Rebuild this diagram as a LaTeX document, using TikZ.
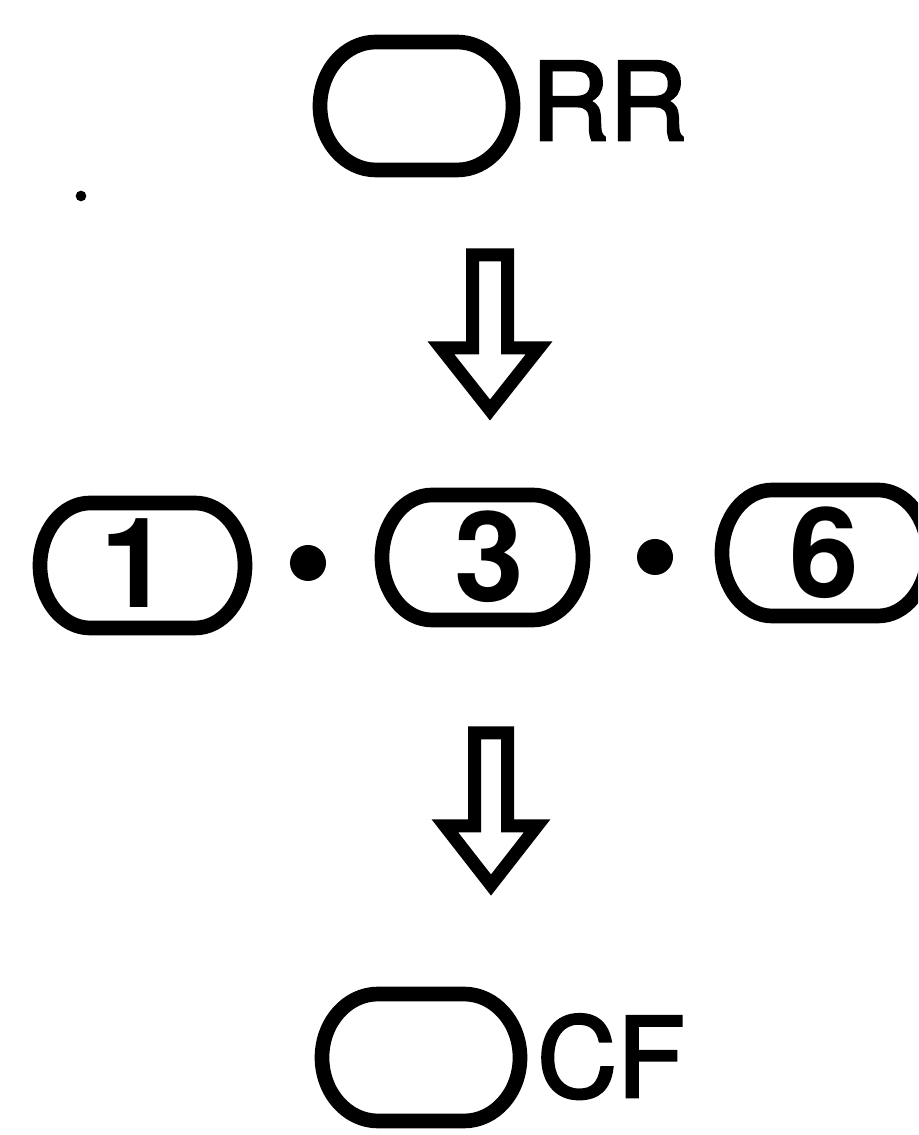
\documentclass[tikz,border=0pt]{standalone}
\usepackage{fontspec}
\setmainfont{TeX Gyre Heros}
\newfontfamily\labelfont[FakeBold=2.5]{TeX Gyre Heros}
\newcommand\capsule[6]{% name, cx, cy, half width, half height, end radius (px)
  \node[slot, minimum width=#4*1.5pt, minimum height=#5*1.5pt] (#1) at (#2,#3) {};
  \draw[ring] (#2-#4+#6,#3+#5) -- (#2+#4-#6,#3+#5)
    arc[start angle=90, end angle=-90, x radius=#6*0.75pt, y radius=#5*0.75pt]
    -- (#2-#4+#6,#3-#5)
    arc[start angle=270, end angle=90, x radius=#6*0.75pt, y radius=#5*0.75pt] -- cycle;
}
\begin{document}
\begin{tikzpicture}[x=0.75pt,y=0.75pt,
  ring/.style={line width=11pt},
  hollowarrow/.style={line width=9.75pt, line join=miter},
  lbl/.style={inner sep=0, anchor=base west, font=\labelfont\fontsize{81}{81}\selectfont},
  digit/.style={inner sep=0, anchor=base, font=\fontsize{94}{94}\selectfont\bfseries},
  spot/.style={circle, fill=black, inner sep=0, minimum size=27pt},
  slot/.style={inner sep=0, draw=none}]
\useasboundingbox (0,0) rectangle (918,1135);
\clip (0,0) rectangle (918,1135);
% top
\capsule{rr}{416.5}{1029}{96.5}{64}{56}
\node[lbl] (rrtext) at (531,995) {RR};
% arrow 1
\coordinate (a1tip) at (490,725);
\draw[hollowarrow] (472.5,880) -- (472.5,787) -- (441,787) -- (a1tip) -- (539,787) -- (507.5,787) -- (507.5,880) -- cycle;
% middle row
\capsule{one}{142.5}{569.5}{102.5}{62.5}{50}
\node[digit] (d1) at (135,527) {1};
\node[spot] (dotA) at (308,572) {};
\capsule{three}{482.5}{577.5}{100.5}{62.5}{50}
\node[digit] (d3) at (489,533) {3};
\node[spot] (dotB) at (655,578) {};
\capsule{six}{825}{582}{103}{63}{50}
\node[digit] (d6) at (824,537) {6};
% arrow 2
\coordinate (a2tip) at (491,250);
\draw[hollowarrow] (474.5,402) -- (474.5,309) -- (445,309) -- (a2tip) -- (537,309) -- (507.5,309) -- (507.5,402) -- cycle;
% bottom
\capsule{cf}{421}{77.5}{99}{63.5}{56}
\node[lbl, font=\labelfont\fontsize{83}{83}\selectfont] (cftext) at (537,38) {CF};
% speck
\node[circle, fill=black, inner sep=0, minimum size=8pt] (speck) at (81,939) {};
\end{tikzpicture}
\end{document}
